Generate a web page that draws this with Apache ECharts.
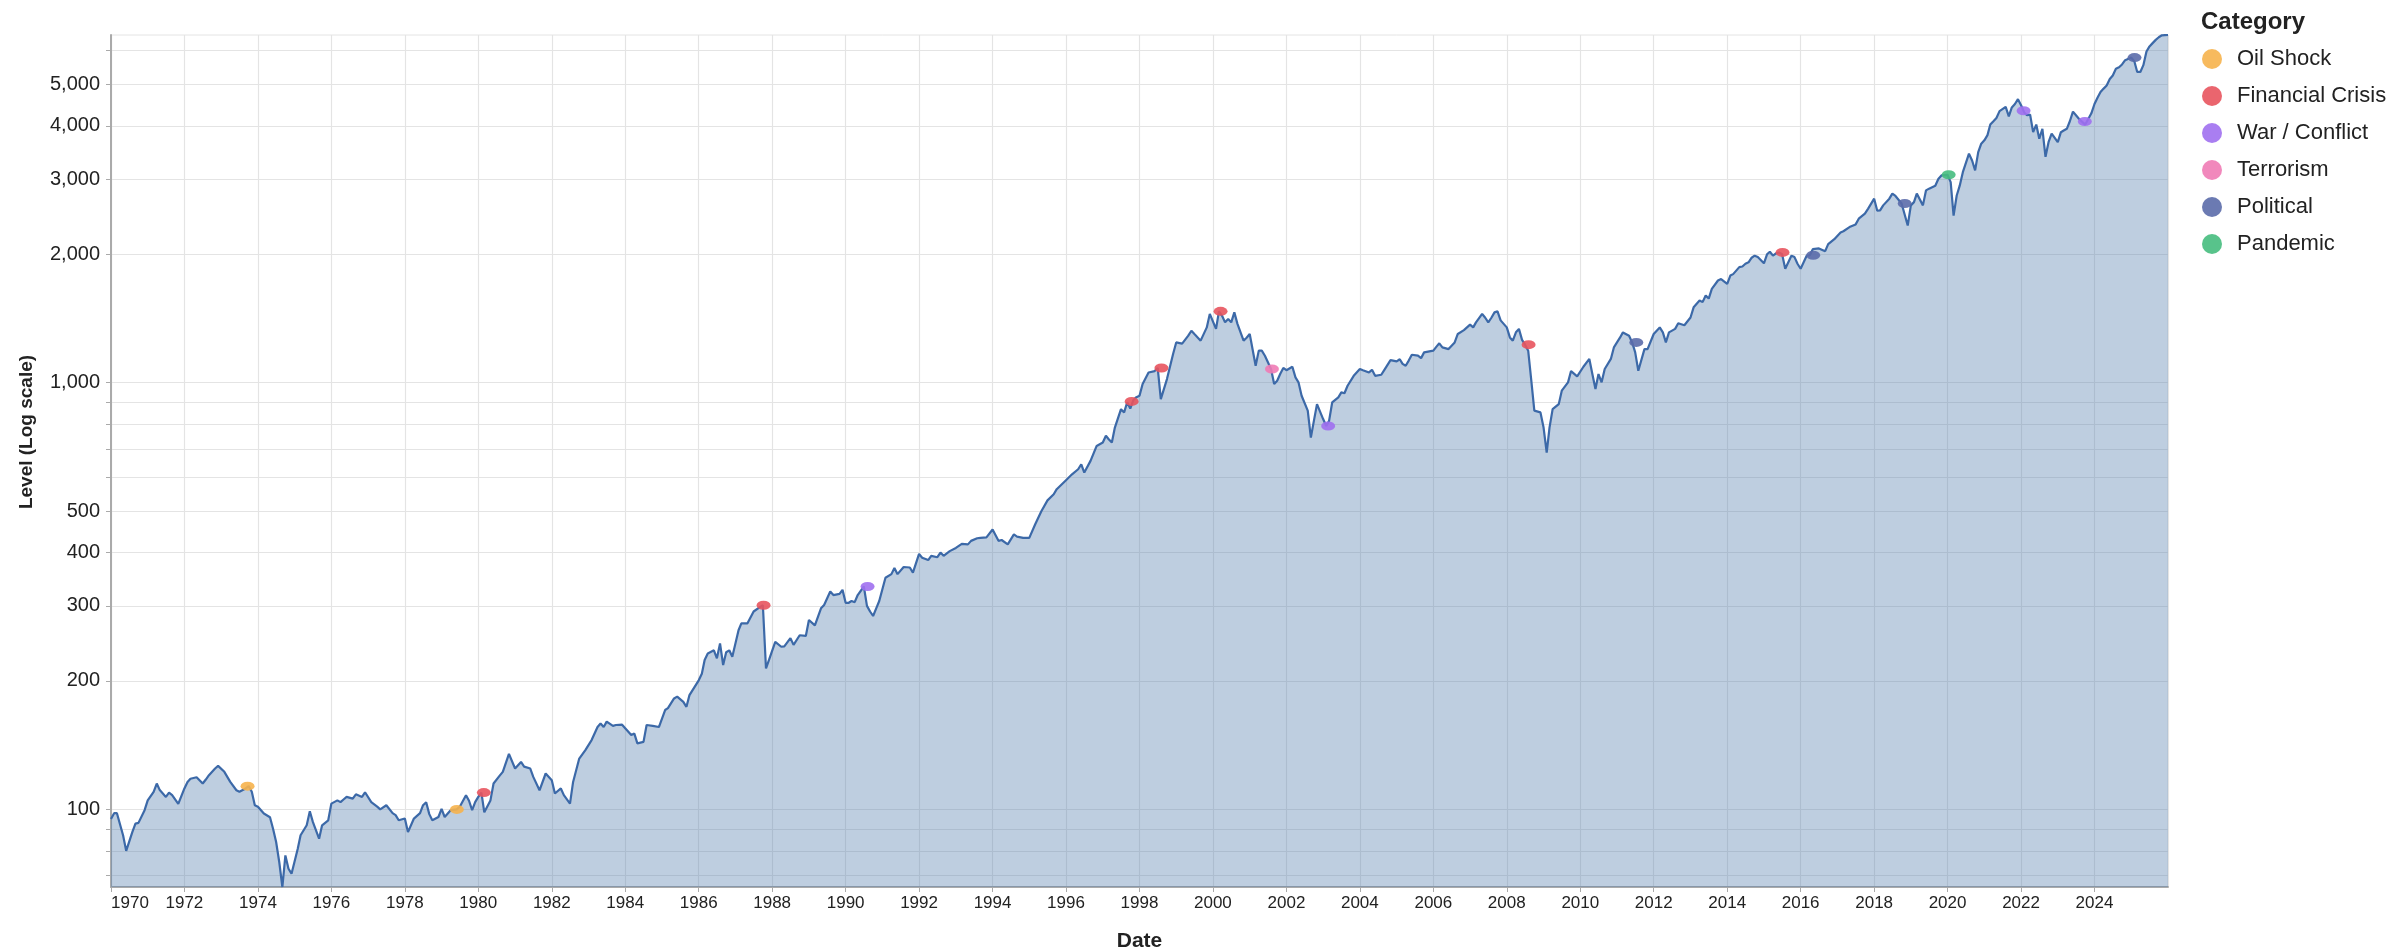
<!DOCTYPE html>
<html>
<head>
<meta charset="utf-8">
<title>Level (Log scale)</title>
<script src="https://cdn.jsdelivr.net/npm/echarts@6/dist/echarts.min.js"></script>
<style>
  html, body { margin: 0; padding: 0; background: #fff; }
  #chart { width: 2402px; height: 952px; }
</style>
</head>
<body>
<div id="chart"></div>
<script>
// monthly level
var dates = [
  '1970-01','1970-02','1970-03','1970-05','1970-06','1970-08','1970-09','1970-10','1970-12',
  '1971-01','1971-03','1971-04','1971-05','1971-07','1971-08','1971-09','1971-11',
  '1972-01','1972-02','1972-03','1972-05','1972-07','1972-08','1972-09','1972-11','1972-12',
  '1973-02','1973-04','1973-06','1973-07','1973-09','1973-10','1973-11','1973-12',
  '1974-01','1974-03','1974-05','1974-06','1974-07','1974-08','1974-09','1974-10','1974-11','1974-12',
  '1975-02','1975-03','1975-05','1975-06','1975-07','1975-09','1975-10','1975-12',
  '1976-01','1976-03','1976-04','1976-05','1976-06','1976-08','1976-09','1976-11','1976-12',
  '1977-02','1977-04','1977-05','1977-07','1977-09','1977-10','1977-11',
  '1978-01','1978-02','1978-04','1978-06','1978-07','1978-08','1978-09','1978-10','1978-12',
  '1979-01','1979-02','1979-04','1979-06','1979-07','1979-09','1979-10','1979-11','1979-12',
  '1980-01','1980-02','1980-03','1980-05','1980-06','1980-08','1980-09','1980-11',
  '1981-01','1981-03','1981-04','1981-06','1981-07','1981-09','1981-11',
  '1982-01','1982-02','1982-04','1982-05','1982-07','1982-08','1982-10','1982-12',
  '1983-02','1983-04','1983-05','1983-06','1983-07','1983-09','1983-10','1983-12',
  '1984-01','1984-03','1984-04','1984-05','1984-07','1984-08','1984-10','1984-12',
  '1985-02','1985-03','1985-05','1985-06','1985-08','1985-09','1985-10',
  '1986-01','1986-02','1986-03','1986-04','1986-06','1986-07','1986-08','1986-09','1986-10','1986-11','1986-12',
  '1987-02','1987-03','1987-05','1987-07','1987-09','1987-10','1987-11','1987-12',
  '1988-02','1988-04','1988-05','1988-07','1988-08','1988-10','1988-12',
  '1989-01','1989-03','1989-05','1989-06','1989-08','1989-09','1989-11','1989-12',
  '1990-01','1990-02','1990-03','1990-04','1990-05','1990-07','1990-08','1990-09','1990-10','1990-11','1990-12',
  '1991-02','1991-04','1991-05','1991-06','1991-08','1991-10','1991-11',
  '1992-01','1992-02','1992-04','1992-05','1992-07','1992-08','1992-09','1992-11',
  '1993-01','1993-03','1993-05','1993-06','1993-08','1993-09','1993-11',
  '1994-01','1994-03','1994-04','1994-06','1994-08','1994-09','1994-11',
  '1995-01','1995-03','1995-05','1995-07','1995-09','1995-10',
  '1996-01','1996-03','1996-05','1996-06','1996-07','1996-09','1996-11',
  '1997-01','1997-02','1997-03','1997-04','1997-05','1997-07','1997-08','1997-09','1997-10','1997-11','1997-12',
  '1998-01','1998-02','1998-04','1998-06','1998-07','1998-08','1998-10','1998-12',
  '1999-01','1999-03','1999-05','1999-06','1999-07','1999-09','1999-11','1999-12',
  '2000-02','2000-03','2000-04','2000-05','2000-06','2000-07','2000-08','2000-09','2000-11','2000-12',
  '2001-01','2001-03','2001-04','2001-05','2001-06','2001-08','2001-09','2001-10','2001-11','2001-12',
  '2002-01','2002-03','2002-04','2002-05','2002-06','2002-08','2002-09','2002-10','2002-11',
  '2003-01','2003-02','2003-03','2003-04','2003-06','2003-07','2003-08','2003-09','2003-11',
  '2004-01','2004-02','2004-04','2004-05','2004-06','2004-08','2004-09','2004-11',
  '2005-01','2005-02','2005-03','2005-04','2005-05','2005-06','2005-08','2005-09','2005-10',
  '2006-01','2006-02','2006-03','2006-04','2006-06','2006-08','2006-09','2006-11',
  '2007-01','2007-02','2007-03','2007-05','2007-06','2007-07','2007-08','2007-09','2007-10','2007-11',
  '2008-01','2008-02','2008-03','2008-04','2008-05','2008-06','2008-07','2008-08','2008-09','2008-10','2008-12',
  '2009-01','2009-02','2009-03','2009-04','2009-06','2009-07','2009-09','2009-10','2009-12',
  '2010-02','2010-04','2010-05','2010-06','2010-07','2010-08','2010-09','2010-11','2010-12',
  '2011-02','2011-03','2011-05','2011-06','2011-07','2011-08','2011-10','2011-11',
  '2012-01','2012-03','2012-04','2012-05','2012-06','2012-08','2012-09','2012-11',
  '2013-01','2013-02','2013-04','2013-05','2013-06','2013-07','2013-08','2013-10','2013-11',
  '2014-01','2014-02','2014-03','2014-05','2014-06','2014-07','2014-08','2014-09','2014-10','2014-11',
  '2015-01','2015-02','2015-03','2015-04','2015-05','2015-06','2015-07','2015-08','2015-10','2015-11','2015-12',
  '2016-01','2016-03','2016-04','2016-05','2016-07','2016-09','2016-10','2016-12',
  '2017-02','2017-03','2017-05','2017-07','2017-08','2017-10','2017-11',
  '2018-01','2018-02','2018-03','2018-04','2018-06','2018-07','2018-08','2018-10','2018-12',
  '2019-01','2019-02','2019-03','2019-05','2019-06','2019-07','2019-09','2019-10','2019-11',
  '2020-01','2020-02','2020-03','2020-04','2020-05','2020-06','2020-08','2020-09','2020-10','2020-11','2020-12',
  '2021-01','2021-02','2021-03','2021-04','2021-05','2021-06','2021-08','2021-09','2021-10','2021-11','2021-12',
  '2022-01','2022-02','2022-03','2022-04','2022-05','2022-06','2022-07','2022-08','2022-09','2022-10','2022-11',
  '2023-01','2023-02','2023-03','2023-04','2023-05','2023-06','2023-07','2023-08','2023-10','2023-12',
  '2024-01','2024-02','2024-03','2024-04','2024-05','2024-06','2024-07','2024-08','2024-09','2024-10','2024-11',
  '2025-01','2025-02','2025-03','2025-04','2025-05','2025-06','2025-07','2025-08','2025-09','2025-10','2025-11','2025-12','2026-01'
];

var levels = [
  95,98,98,87,80,88.5,92.6,93,99.6,
  105,110,115,111,107,109.5,108,103,
  112,116,118,119,115,117.5,120.3,124.7,126.5,
  122.5,116,110.9,110,112,113.4,110,102.3,
  101.5,97.8,95.9,90,83.9,75.3,65.8,78,72.6,70.7,
  80.9,87,91.8,99,93.5,85.4,91.8,94.3,
  103.2,105,104,105.5,107,106,108.5,107,109.7,
  104,101.5,100,102.3,98,97,94.3,
  95.2,88.5,95.2,98,102.3,104,97.5,94.3,96,
  100.3,96,99.6,100,101.5,108,104.8,99.6,104,
  107,109.5,98.5,105,115,120,122.5,135,
  124.7,129.2,126,124.7,119.2,110.9,121.4,
  117,109,112,108,103.2,116,131.6,137.7,
  145.4,156,159,156,160.6,157,157.7,158,
  155,149.4,150.6,142.8,144,157.7,157,156,
  171,172.7,182,183.8,178.7,174,185.3,
  200.7,208,224,232,236,226,245,218,233.5,236,228,
  263,273,273,291,298,301,214,224,
  247,240.6,241,252,243,256,255,
  278,270,296,301.5,324,318,320,327,
  305,305,308,306,318,333,300,291,284,296,308,
  349,356,368,356,370,369,359,
  397,389,384,393,390,400,393,403,
  410,419,418,426,432,433,434,
  453,426,428,418,441,436,433,
  433,466,500,530,548,563,
  591,610,627,644,616,656,711,
  724,751,737,724,785,867,852,900,870,911,925,
  932,993,1057,1065,1083,915,1020,1168,
  1243,1235,1289,1324,1301,1255,1348,1450,
  1337,1470,1435,1385,1410,1385,1462,1374,1255,1275,
  1301,1096,1189,1189,1157,1077,993,1011,1050,1083,
  1070,1090,1029,1002,932,860,744,814,891,
  822,792,814,899,924,949,945,984,1038,
  1077,1070,1057,1072,1038,1044,1072,1130,
  1122,1135,1107,1096,1127,1163,1157,1142,1178,
  1189,1215,1237,1210,1199,1243,1301,1328,
  1368,1348,1385,1450,1420,1385,1420,1462,1470,1400,
  1348,1277,1255,1313,1337,1260,1228,1189,1011,860,852,
  785,686,785,867,891,958,1002,1065,1035,
  1090,1137,1048,967,1048,1002,1077,1137,1210,
  1277,1312,1289,1243,1178,1067,1199,1199,
  1301,1348,1312,1243,1312,1337,1378,1364,
  1422,1502,1558,1545,1601,1575,1660,1736,1750,
  1705,1783,1797,1866,1872,1900,1915,1963,1985,1970,
  1905,2000,2028,1985,2010,2020,2000,1850,1985,1970,1900,
  1850,1985,1990,2056,2064,2034,2112,2170,
  2250,2265,2316,2350,2423,2490,2556,
  2700,2530,2534,2604,2700,2775,2740,2630,2335,
  2604,2650,2775,2604,2824,2850,2896,3002,3060,
  3071,2953,2464,2747,2896,3115,3441,3318,3146,3470,3633,
  3699,3804,4027,4100,4173,4331,4430,4210,4417,4500,4618,
  4470,4300,4236,4250,3865,4027,3730,3936,3385,3662,3837,
  3662,3865,3900,3936,4100,4319,4236,4150,4027,4280,
  4500,4660,4800,4890,4970,5150,5250,5440,5485,5570,5700,
  5780,5660,5350,5350,5550,5975,6140,6250,6360,6450,6520,6525,6530
];

// market events
var categories = ['Oil Shock', 'Financial Crisis', 'War / Conflict', 'Terrorism', 'Political', 'Pandemic'];
var categoryColors = ['#F6B24C', '#E8545E', '#A070F0', '#F07BB5', '#5B6BAA', '#46BD7E'];
var eventDates = [
  '1973-09-20', '1979-06-02',
  '1980-02-25', '1987-10-08', '1997-10-15', '1998-08-07', '2000-03-17', '2008-08-05', '2015-07-05',
  '1990-08-07', '2003-02-20', '2022-01-26', '2023-09-27',
  '2001-08-10',
  '2011-07-12', '2016-05-05', '2018-11-01', '2025-02-02',
  '2020-01-12'
];
var eventLevels = [
  113.4, 100,
  109.5, 301, 904, 1083, 1470, 1228, 2020,
  333, 792, 4340, 4094,
  1077,
  1243, 1990, 2630, 5780,
  3071
];
var eventCats = [
  'Oil Shock', 'Oil Shock',
  'Financial Crisis', 'Financial Crisis', 'Financial Crisis', 'Financial Crisis', 'Financial Crisis', 'Financial Crisis', 'Financial Crisis',
  'War / Conflict', 'War / Conflict', 'War / Conflict', 'War / Conflict',
  'Terrorism',
  'Political', 'Political', 'Political', 'Political',
  'Pandemic'
];

// axis ticks
var xTickStepYears = 2;
var yGridValues = [70, 80, 90, 100, 200, 300, 400, 500, 600, 700, 800, 900, 1000, 2000, 3000, 4000, 5000, 6000];
var yLabelValues = [100, 200, 300, 400, 500, 1000, 2000, 3000, 4000, 5000];

var FONT = '"Liberation Sans", Arial, sans-serif';
var YEAR_MS = 365.25 * 24 * 3600 * 1000;

var chart = echarts.init(document.getElementById('chart'));

var lineData = dates.map(function (d, i) { return [d, levels[i]]; });
var firstYear = Number(dates[0].slice(0, 4));

var series = [{
  name: 'Level',
  type: 'line',
  data: lineData,
  showSymbol: false,
  symbol: 'none',
  z: 2,
  lineStyle: { color: '#3C69A8', width: 2.2 },
  areaStyle: { color: '#4C78A8', opacity: 0.36, origin: 'start' }
}];

categories.forEach(function (cat, ci) {
  var pts = [];
  eventCats.forEach(function (c, i) {
    if (c === cat) pts.push([eventDates[i], eventLevels[i]]);
  });
  series.push({
    name: cat,
    type: 'scatter',
    data: pts,
    symbol: 'circle',
    symbolSize: [14, 9],
    z: 5,
    itemStyle: { color: categoryColors[ci], opacity: 0.9 }
  });
});

var option = {
  backgroundColor: '#fff',
  animation: false,
  color: categoryColors,
  textStyle: { fontFamily: FONT },
  grid: {
    left: 111, right: 234, top: 35, bottom: 65,
    outerBoundsMode: 'none',
    containLabel: false,
    show: true, borderColor: '#e4e4e4', borderWidth: 1
  },
  title: {
    text: 'Category',
    left: 2196, top: 5,
    textStyle: { fontFamily: FONT, fontSize: 24, fontWeight: 'bold', color: '#222' }
  },
  legend: {
    data: categories,
    orient: 'vertical',
    left: 2197, top: 43,
    icon: 'circle',
    itemWidth: 20, itemHeight: 20, itemGap: 15,
    textStyle: { fontFamily: FONT, fontSize: 22, color: '#222', padding: [0, 0, 0, 10] }
  },
  xAxis: {
    type: 'time',
    min: '1970-01',
    max: 'dataMax',
    minInterval: xTickStepYears * YEAR_MS * 0.99,
    maxInterval: xTickStepYears * YEAR_MS * 1.01,
    name: 'Date',
    nameLocation: 'middle',
    nameGap: 44,
    nameTextStyle: { fontFamily: FONT, fontSize: 21, fontWeight: 'bold', color: '#222' },
    axisLine: { show: true, lineStyle: { color: '#aaa', width: 2 } },
    axisTick: { show: true, length: 5, lineStyle: { color: '#aaa' } },
    axisLabel: {
      showMaxLabel: false,
      margin: 8,
      fontFamily: FONT, fontSize: 17, color: '#222',
      formatter: function (v) {
        var yr = new Date(v).getFullYear();
        // first label sits flush with the axis start
        return yr === firstYear ? '{first|' + yr + '}' : String(yr);
      },
      rich: {
        first: { fontFamily: FONT, fontSize: 17, color: '#222', padding: [0, 0, 0, 38] }
      }
    },
    splitLine: { show: true, lineStyle: { color: '#e4e4e4', width: 1.2 } }
  },
  yAxis: {
    type: 'log',
    logBase: 10,
    min: 'dataMin',
    max: 'dataMax',
    name: 'Level (Log scale)',
    nameLocation: 'middle',
    nameGap: 75,
    nameTextStyle: {
      fontFamily: FONT, fontSize: 19, fontWeight: 'bold', color: '#222',
      padding: [0, 0, 0, 58]
    },
    axisLine: { show: true, lineStyle: { color: '#aaa', width: 2 } },
    axisTick: { show: true, customValues: yGridValues, length: 5, lineStyle: { color: '#aaa' } },
    axisLabel: {
      customValues: yLabelValues,
      margin: 11,
      fontFamily: FONT, fontSize: 20, color: '#222',
      formatter: function (v) { return Math.round(v).toLocaleString('en-US'); }
    },
    splitLine: { show: true, lineStyle: { color: '#e4e4e4', width: 1.2 } }
  },
  series: series
};

chart.setOption(option);
</script>
</body>
</html>
